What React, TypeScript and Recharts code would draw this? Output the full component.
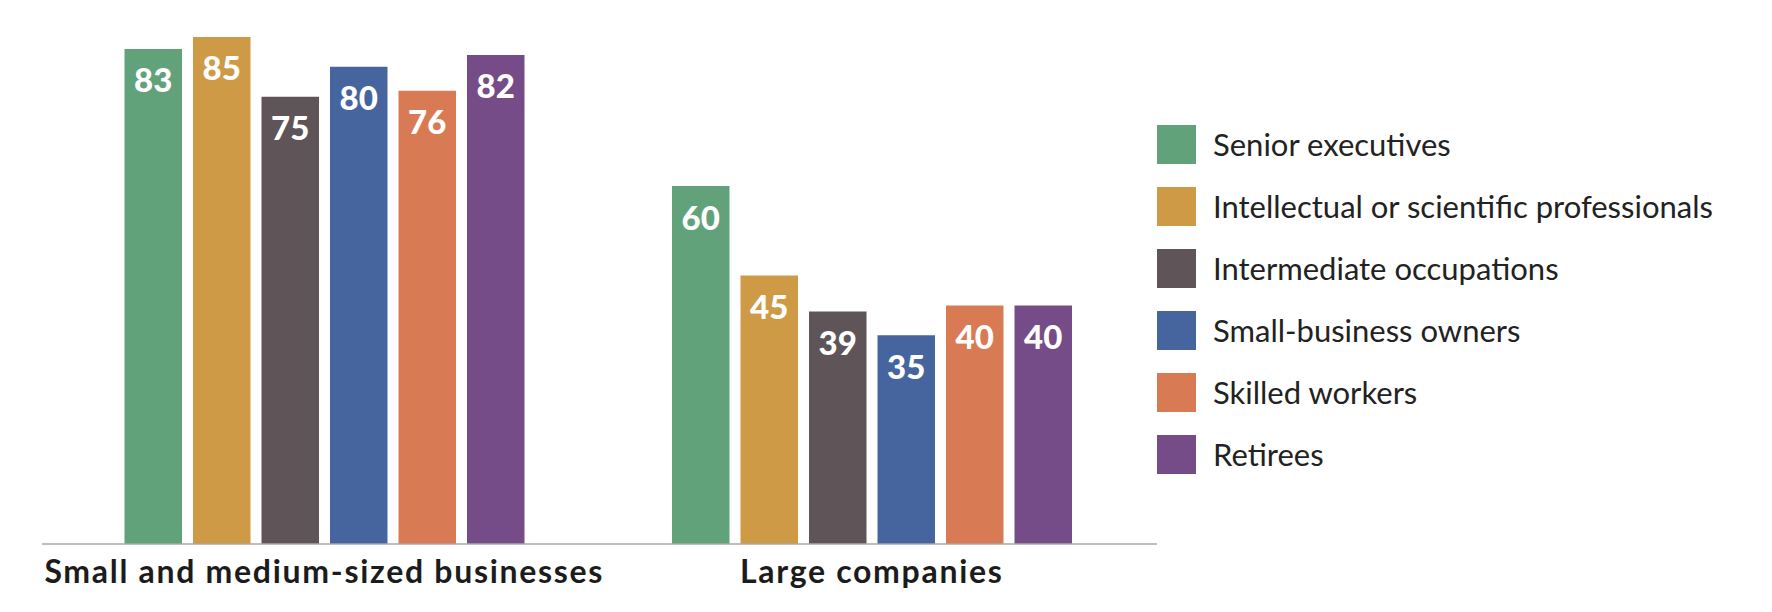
import React from "react";
import { BarChart, Bar, XAxis, YAxis, LabelList } from "recharts";

const CATEGORIES = ["Small and medium-sized businesses", "Large companies"];

const SERIES_NAMES = [
  "Senior executives",
  "Intellectual or scientific professionals",
  "Intermediate occupations",
  "Small-business owners",
  "Skilled workers",
  "Retirees",
];

const SERIES_COLORS = ["#61A27A", "#CF9A45", "#5F5457", "#46659E", "#D87B55", "#764C88"];

const SENIOR_EXECUTIVES = [83, 60];
const INTELLECTUAL_PROFESSIONALS = [85, 45];
const INTERMEDIATE_OCCUPATIONS = [75, 39];
const SMALL_BUSINESS_OWNERS = [80, 35];
const SKILLED_WORKERS = [76, 40];
const RETIREES = [82, 40];

const SERIES_VALUES = [
  SENIOR_EXECUTIVES,
  INTELLECTUAL_PROFESSIONALS,
  INTERMEDIATE_OCCUPATIONS,
  SMALL_BUSINESS_OWNERS,
  SKILLED_WORKERS,
  RETIREES,
];

const FONT = "Lato, 'Noto Sans', sans-serif";

const data = CATEGORIES.map((category, i) => {
  const row: Record<string, string | number> = { category };
  SERIES_VALUES.forEach((vals, s) => {
    row[`s${s}`] = vals[i];
  });
  return row;
});

export default function App() {
  return (
    <div style={{ position: "absolute", left: 0, top: 0, width: 1772, height: 612, background: "#fff" }}>
      <BarChart
        width={1772}
        height={612}
        data={data}
        margin={{ top: 37, right: 615, bottom: 0, left: 42 }}
        barSize={57.5}
        barGap={11}
      >
        <XAxis
          dataKey="category"
          height={68}
          padding={{ left: 8.5, right: 11.5 }}
          tickLine={false}
          tickSize={6}
          tickMargin={10}
          axisLine={{ stroke: "#a8a8a4", strokeWidth: 1.5 }}
          tick={{ fontSize: 32, fontWeight: 700, fill: "#1c1c1c", fontFamily: FONT, letterSpacing: 1.7 }}
          interval={0}
        />
        <YAxis hide domain={[0, 85]} />
        {SERIES_NAMES.map((name, s) => (
          <Bar key={name} dataKey={`s${s}`} name={name} fill={SERIES_COLORS[s]} isAnimationActive={false}>
            <LabelList
              dataKey={`s${s}`}
              position="insideTop"
              offset={20}
              fill="#ffffff"
              style={{ fontSize: 33, fontWeight: 900, fontFamily: FONT }}
            />
          </Bar>
        ))}
      </BarChart>

      {/* legend sits to the right of the plot, one row per occupation */}
      <div style={{ position: "absolute", left: 1157, top: 125, fontFamily: FONT }}>
        {SERIES_NAMES.map((name, s) => (
          <div key={name} style={{ display: "flex", alignItems: "center", height: 39, marginBottom: 23 }}>
            <span style={{ display: "inline-block", width: 39, height: 39, background: SERIES_COLORS[s] }} />
            <span style={{ marginLeft: 17, fontSize: 31, color: "#222", lineHeight: "39px", whiteSpace: "nowrap" }}>
              {name}
            </span>
          </div>
        ))}
      </div>
    </div>
  );
}
